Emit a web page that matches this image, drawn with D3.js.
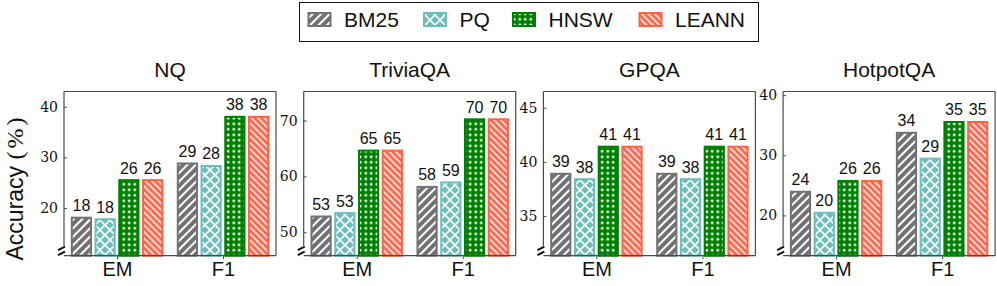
<!DOCTYPE html>
<html>
<head>
<meta charset="utf-8">
<script src="https://cdn.jsdelivr.net/npm/d3@7"></script>
<style>
  body { margin: 0; background: #fff; }
  svg { display: block; }
</style>
</head>
<body>
<svg id="chart" width="997" height="286"></svg>
<script>
// ---------------- DATA ----------------
const datasets = ["NQ", "TriviaQA", "GPQA", "HotpotQA"];
const metrics = ["EM", "F1"];
const methods = ["BM25", "PQ", "HNSW", "LEANN"];

// values per dataset: [EM, F1]
const bm25  = [[18.3, 29.0], [53.0, 58.3], [39.0, 39.0], [24.1, 33.9]];
const pq    = [[18.0, 28.5], [53.6, 59.1], [38.5, 38.5], [20.6, 29.6]];
const hnsw  = [[25.7, 38.2], [64.8, 70.4], [41.5, 41.5], [25.9, 35.7]];
const leann = [[25.7, 38.2], [64.8, 70.4], [41.5, 41.5], [25.9, 35.7]];

// printed bar labels
const bm25Labels  = [["18", "29"], ["53", "58"], ["39", "39"], ["24", "34"]];
const pqLabels    = [["18", "28"], ["53", "59"], ["38", "38"], ["20", "29"]];
const hnswLabels  = [["26", "38"], ["65", "70"], ["41", "41"], ["26", "35"]];
const leannLabels = [["26", "38"], ["65", "70"], ["41", "41"], ["26", "35"]];

// y-axis ranges and ticks per dataset
const yMin = [10.6, 45.8, 31.35, 13.3];
const yMax = [43.0, 75.2, 46.5, 40.6];
const yTicks = [[20, 30, 40], [50, 60, 70], [35, 40, 45], [20, 30, 40]];

const yLabel = "Accuracy";

// ---------------- STYLE ----------------
const colors = { BM25: "#727272", PQ: "#6dbdbd", HNSW: "#008000", LEANN: "#ff6347" };
const seriesVals = [bm25, pq, hnsw, leann];
const seriesLabels = [bm25Labels, pqLabels, hnswLabels, leannLabels];

const svg = d3.select("#chart");
const defs = svg.append("defs");

// hatch patterns
function stripePattern(id, color, spacing, lw, angle) {
  const p = defs.append("pattern").attr("id", id)
    .attr("patternUnits", "userSpaceOnUse")
    .attr("width", spacing).attr("height", spacing)
    .attr("patternTransform", `rotate(${angle})`);
  p.append("rect").attr("width", spacing).attr("height", spacing).attr("fill", color);
  p.append("line").attr("x1", spacing / 2).attr("x2", spacing / 2)
    .attr("y1", 0).attr("y2", spacing)
    .attr("stroke", "#fff").attr("stroke-width", lw);
}
stripePattern("pat-BM25", colors.BM25, 6, 2, 45);
stripePattern("pat-LEANN", colors.LEANN, 4.6, 1.6, -45);

(function crossPattern() {
  const s = 10;
  const p = defs.append("pattern").attr("id", "pat-PQ")
    .attr("patternUnits", "userSpaceOnUse").attr("width", s).attr("height", s);
  p.append("rect").attr("width", s).attr("height", s).attr("fill", colors.PQ);
  p.append("path").attr("d", `M0,0L${s},${s}M0,${s}L${s},0`)
    .attr("stroke", "#fff").attr("stroke-width", 1.6);
})();

(function dotPattern() {
  const s = 5.5;
  const p = defs.append("pattern").attr("id", "pat-HNSW")
    .attr("patternUnits", "userSpaceOnUse").attr("width", s).attr("height", s);
  p.append("rect").attr("width", s).attr("height", s).attr("fill", colors.HNSW);
  p.append("circle").attr("cx", s / 2).attr("cy", s / 2).attr("r", 1.4).attr("fill", "#fff");
})();

// ---------------- LAYOUT ----------------
const panelLeft0 = 64, panelPitch = 239.7, panelW = 212;
const plotTop = 91.5, plotBottom = 255.7;
const axisColor = "#4a4a4a";
const sans = "'Liberation Sans', Arial, sans-serif";
const serif = "'DejaVu Serif', serif";

datasets.forEach((ds, di) => {
  const left = panelLeft0 + di * panelPitch;
  const right = left + panelW;
  const g = svg.append("g");

  const x = d3.scaleLinear().domain([-0.5, 1.5]).range([left, right]);
  const y = d3.scaleLinear().domain([yMin[di], yMax[di]]).range([plotBottom, plotTop]);
  const unit = x(1) - x(0);
  const pitch = 0.224 * unit, bw = 0.2 * unit;
  const sw = 2;

  // bars
  methods.forEach((m, mi) => {
    metrics.forEach((met, ki) => {
      const v = seriesVals[mi][di][ki];
      const cx = x(ki) + (mi - 1.5) * pitch;
      g.append("rect")
        .attr("x", cx - bw / 2 + sw / 2)
        .attr("y", y(v) + sw / 2)
        .attr("width", bw - sw)
        .attr("height", y(yMin[di]) - y(v) - sw / 2)
        .attr("fill", `url(#pat-${m})`)
        .attr("stroke", colors[m])
        .attr("stroke-width", sw);
      g.append("text")
        .attr("x", cx).attr("y", y(v) - 5.5)
        .attr("text-anchor", "middle")
        .attr("font-family", sans).attr("font-size", 16)
        .attr("fill", "#111")
        .text(seriesLabels[mi][di][ki]);
    });
  });

  // y axis
  const yAxis = d3.axisLeft(y).tickValues(yTicks[di]).tickSizeInner(-3).tickSizeOuter(0).tickPadding(6);
  const ya = g.append("g").attr("transform", `translate(${left},0)`).call(yAxis);
  ya.select(".domain").remove();
  ya.selectAll(".tick line").attr("stroke", axisColor);
  ya.selectAll(".tick text").attr("font-family", serif).attr("font-size", 14).attr("fill", "#111");

  // x axis
  const xAxis = d3.axisBottom(x).tickValues([0, 1]).tickFormat((d) => metrics[d])
    .tickSizeInner(3.5).tickSizeOuter(0).tickPadding(3);
  const xa = g.append("g").attr("transform", `translate(0,${plotBottom})`).call(xAxis);
  xa.select(".domain").remove();
  xa.selectAll(".tick line").attr("stroke", axisColor);
  xa.selectAll(".tick text").attr("font-family", sans).attr("font-size", 20).attr("fill", "#111");

  // spines
  const line = (x1, y1, x2, y2) => g.append("line")
    .attr("x1", x1).attr("y1", y1).attr("x2", x2).attr("y2", y2)
    .attr("stroke", axisColor).attr("stroke-width", 1.2);
  line(left, plotTop, right, plotTop);
  line(right, plotTop, right, plotBottom);
  line(left, plotBottom, right, plotBottom);
  line(left, plotTop, left, plotBottom - 10);
  // axis break marks
  g.append("path")
    .attr("d", `M${left - 6},${plotBottom - 5.5}L${left + 1},${plotBottom - 9}M${left - 6},${plotBottom - 0.5}L${left + 1},${plotBottom - 4}`)
    .attr("stroke", "#111").attr("stroke-width", 2).attr("fill", "none");

  // title
  g.append("text")
    .attr("x", (left + right) / 2).attr("y", 77)
    .attr("text-anchor", "middle")
    .attr("font-family", sans).attr("font-size", 21).attr("fill", "#111")
    .text(ds);
});

// y label
const yl = svg.append("text")
  .attr("transform", "translate(23.3,187.5) rotate(-90)")
  .attr("text-anchor", "middle")
  .attr("font-family", sans).attr("font-size", 23).attr("fill", "#111");
yl.append("tspan").text(yLabel + " ");
yl.append("tspan").attr("font-family", "'Liberation Serif', serif").attr("font-size", 24)
  .attr("letter-spacing", 3).text("(%)");

// ---------------- LEGEND ----------------
const legend = svg.append("g");
legend.append("rect").attr("x", 299.5).attr("y", 2.5).attr("width", 459).attr("height", 39)
  .attr("fill", "#fff").attr("stroke", "#111").attr("stroke-width", 1);
const legX = [307.5, 423, 512, 638.5];
methods.forEach((m, i) => {
  legend.append("rect")
    .attr("x", legX[i] + 1).attr("y", 13)
    .attr("width", 22).attr("height", 13)
    .attr("fill", `url(#pat-${m})`).attr("stroke", colors[m]).attr("stroke-width", 2);
  legend.append("text")
    .attr("x", legX[i] + 36.5).attr("y", 27)
    .attr("font-family", sans).attr("font-size", 21).attr("fill", "#111")
    .text(m);
});
</script>
</body>
</html>
